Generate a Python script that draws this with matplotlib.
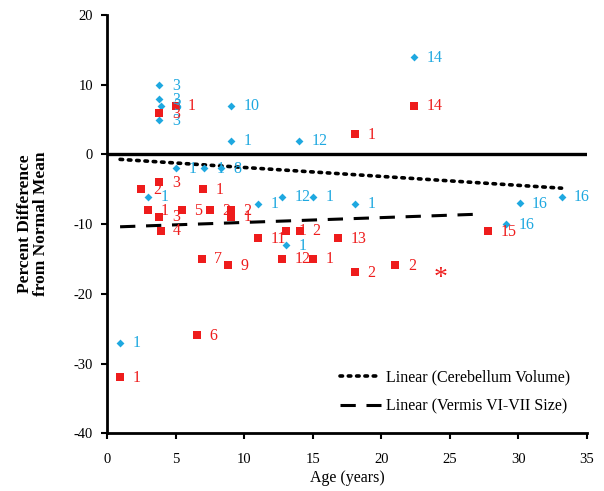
import matplotlib
matplotlib.use("Agg")
import matplotlib.pyplot as plt
from matplotlib.lines import Line2D

plt.rcParams['font.family'] = ['Liberation Serif', 'DejaVu Serif']
plt.rcParams['axes.unicode_minus'] = False

# Cerebellum volume (blue diamonds)
cb_age = [3.83, 3.83, 3.94, 3.83, 9.06, 9.06, 13.98, 22.37, 5.04, 7.08, 8.30,
          2.99, 10.99, 12.75, 15.03, 18.09, 13.08, 30.08, 33.14, 29.10, 0.96]
cb_val = [9.97, 7.92, 6.98, 4.89, 6.98, 1.99, 1.99, 14.0, -1.99, -1.99, -1.99,
          -6.04, -7.04, -6.04, -6.04, -7.04, -13.06, -6.98, -6.04, -9.97, -26.98]
cb_lab = ["3", "3", "3", "3", "10", "1", "12", "14", "1", "1", "8",
          "1", "1", "12", "1", "1", "1", "16", "16", "16", "1"]

# Vermis VI-VII size (red squares)
vm_age = [5.0, 3.83, 18.07, 22.37, 2.50, 3.83, 7.0, 2.99, 3.83, 5.44, 3.92,
          7.52, 9.04, 9.04, 10.99, 13.08, 14.05, 16.86, 12.75, 15.03, 18.09,
          21.03, 6.91, 8.79, 27.80, 0.96, 6.59]
vm_val = [6.98, 5.93, 2.93, 6.98, -4.99, -3.95, -4.99, -7.98, -8.93, -7.98, -10.93,
          -7.98, -7.98, -8.93, -11.97, -10.93, -10.93, -11.97, -14.96, -14.96, -16.87,
          -15.91, -14.96, -15.91, -11.03, -31.9, -25.88]
vm_lab = ["1", "3", "1", "14", "2", "3", "1", "1", "3", "5", "4",
          "2", "2", "1", "11", "1", "2", "13", "12", "1", "2",
          "2", "7", "9", "15", "1", "6"]

# Linear trend lines (end points)
cb_trend_x = [0.96, 33.14]
cb_trend_y = [-0.71, -4.84]
vm_trend_x = [0.96, 27.27]
vm_trend_y = [-10.38, -8.56]

asterisk_x, asterisk_y = 24.33, -17.81

x_ticks = [0, 5, 10, 15, 20, 25, 30, 35]
y_ticks = [-40, -30, -20, -10, 0, 10, 20]

BLUE = "#1ea8e0"
RED = "#ee1c1c"

fig = plt.figure(figsize=(6.04, 4.91), dpi=100)
ax = fig.add_axes([0.177, 0.1175, 0.795, 0.852])

ax.axhline(0, color="black", lw=2.4, zorder=1)
ax.plot(cb_trend_x, cb_trend_y, color="black", lw=2.6, linestyle=(0, (0.7, 1.6)),
        dash_capstyle="round", zorder=2)
ax.plot(vm_trend_x, vm_trend_y, color="black", lw=2.2, linestyle=(0, (5, 3.5)), zorder=2)

ax.scatter(cb_age, cb_val, marker="D", s=16, color=BLUE, linewidths=0, zorder=3)
ax.scatter(vm_age, vm_val, marker="s", s=40, color=RED, linewidths=0, zorder=4)

for x, y, t in zip(cb_age, cb_val, cb_lab):
    ax.annotate(t, (x, y), xytext=(9, -0.5), textcoords="offset points",
                color=BLUE, fontsize=11.5, va="center", ha="left", zorder=5)
for x, y, t in zip(vm_age, vm_val, vm_lab):
    ax.annotate(t, (x, y), xytext=(9, -0.5), textcoords="offset points",
                color=RED, fontsize=11.5, va="center", ha="left", zorder=5)

ax.text(asterisk_x, asterisk_y, "*", color=RED, fontsize=20, ha="center", va="center")

ax.set_xlim(0, 35)
ax.set_ylim(-40, 20)
ax.set_xticks(x_ticks)
ax.set_yticks(y_ticks)
ax.tick_params(direction="out", length=4, width=1.5, labelsize=10.5)
ax.tick_params(axis="x", pad=10)
ax.tick_params(axis="y", pad=6)
for s in ["top", "right"]:
    ax.spines[s].set_visible(False)
for s in ["left", "bottom"]:
    ax.spines[s].set_linewidth(2)

ax.set_xlabel("Age (years)", fontsize=11.5, labelpad=3)
ax.set_ylabel("Percent Difference\nfrom Normal Mean", fontsize=12.5, fontweight="bold",
              labelpad=18, linespacing=1.0)

handles = [Line2D([], [], color="black", lw=2.6, linestyle=(0, (0.7, 1.6)), dash_capstyle="round"),
           Line2D([], [], color="black", lw=2.2, linestyle=(0, (5, 3.5)))]
ax.legend(handles, ["Linear (Cerebellum Volume)", "Linear (Vermis VI-VII Size)"],
          loc="lower right", bbox_to_anchor=(0.995, 0.01), frameon=False, fontsize=11.5,
          handlelength=2.6, handletextpad=0.3, labelspacing=0.85)

fig.savefig("out.png", dpi=100)
